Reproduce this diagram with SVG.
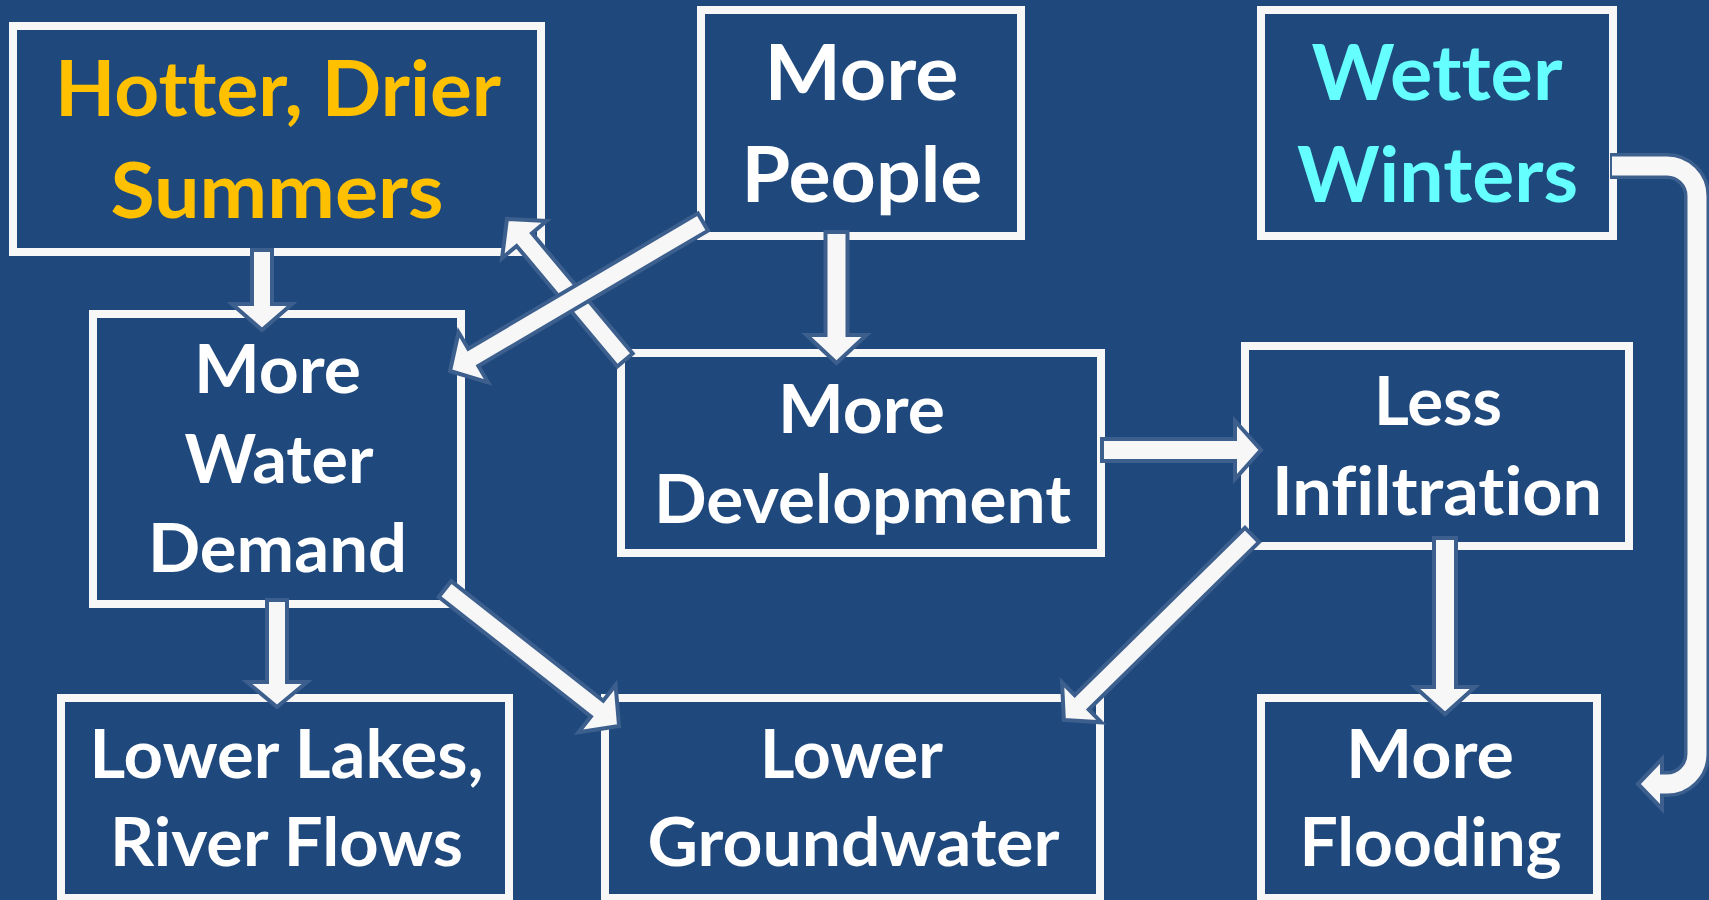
<svg xmlns="http://www.w3.org/2000/svg" width="1709" height="900" viewBox="0 0 1709 900">
<style>
.bg{fill:#1F497D}
.box{fill:#1F497D;stroke:#F7F7F7;stroke-width:8}
.t{font-family:Lato,"Open Sans","Liberation Sans",sans-serif;font-weight:700;text-anchor:middle;fill:#FFFFFF;font-variant-ligatures:none;font-feature-settings:"liga" 0,"clig" 0,"dlig" 0}
.s{font-size:66px}
.b{font-size:76px}
.arr{fill:#F7F7F7;stroke:#3C5F8E;stroke-width:4;stroke-linejoin:miter}
</style>
<rect class="bg" x="0" y="0" width="1709" height="900"/>
<g id="hotter">
<rect class="box" x="13" y="26" width="528" height="226"/>
<text class="t b" x="278" y="116" style="fill:#FFC000" textLength="446" lengthAdjust="spacingAndGlyphs">Hotter, Drier</text>
<text class="t b" x="277" y="218" style="fill:#FFC000" textLength="333" lengthAdjust="spacingAndGlyphs">Summers</text>
</g>
<g id="people">
<rect class="box" x="701" y="10" width="320" height="226"/>
<text class="t b" x="861.5" y="100" textLength="194" lengthAdjust="spacingAndGlyphs">More</text>
<text class="t b" x="862" y="201.5" textLength="241" lengthAdjust="spacingAndGlyphs">People</text>
</g>
<g id="wetter">
<rect class="box" x="1261" y="10" width="352" height="226"/>
<text class="t b" x="1437" y="99.5" style="fill:#66FFFF" textLength="251" lengthAdjust="spacingAndGlyphs">Wetter</text>
<text class="t b" x="1437.5" y="201.5" style="fill:#66FFFF" textLength="281" lengthAdjust="spacingAndGlyphs">Winters</text>
</g>
<g id="water">
<rect class="box" x="93" y="314" width="368" height="290"/>
<text class="t s" x="277.5" y="392.5" textLength="167" lengthAdjust="spacingAndGlyphs">More</text>
<text class="t s" x="279" y="482.5" textLength="189" lengthAdjust="spacingAndGlyphs">Water</text>
<text class="t s" x="277.5" y="571.5" textLength="259" lengthAdjust="spacingAndGlyphs">Demand</text>
</g>
<g id="development">
<rect class="box" x="621" y="353" width="480" height="200"/>
<text class="t s" x="861.5" y="432.5" textLength="167" lengthAdjust="spacingAndGlyphs">More</text>
<text class="t s" x="862.5" y="522.5" textLength="417" lengthAdjust="spacingAndGlyphs">Development</text>
</g>
<g id="infiltration">
<rect class="box" x="1245" y="346" width="384" height="200"/>
<text class="t s" x="1438" y="425" textLength="128" lengthAdjust="spacingAndGlyphs">Less</text>
<text class="t s" x="1437" y="515" textLength="330" lengthAdjust="spacingAndGlyphs">Infiltration</text>
</g>
<g id="lakes">
<rect class="box" x="61" y="698" width="448" height="200"/>
<text class="t s" x="286.5" y="777.5" textLength="394" lengthAdjust="spacingAndGlyphs">Lower Lakes,</text>
<text class="t s" x="286.5" y="866" textLength="353" lengthAdjust="spacingAndGlyphs">River Flows</text>
</g>
<g id="groundwater">
<rect class="box" x="605" y="698" width="495" height="200"/>
<text class="t s" x="851.5" y="777.5" textLength="183" lengthAdjust="spacingAndGlyphs">Lower</text>
<text class="t s" x="853.5" y="866" textLength="412" lengthAdjust="spacingAndGlyphs">Groundwater</text>
</g>
<g id="flooding">
<rect class="box" x="1261" y="698" width="336" height="200"/>
<text class="t s" x="1430" y="777.5" textLength="168" lengthAdjust="spacingAndGlyphs">More</text>
<text class="t s" x="1430.5" y="866" textLength="262" lengthAdjust="spacingAndGlyphs">Flooding</text>
</g>
<g id="connectors">
<polygon class="arr" transform="translate(262,250) rotate(90)" points="0,-10 54,-10 54,-30 80,0 54,30 54,10 0,10"/>
<polygon class="arr" transform="translate(836.5,232) rotate(90)" points="0,-11 103,-11 103,-30 131,0 103,30 103,11 0,11"/>
<polygon class="arr" transform="translate(625,360) rotate(-129.9)" points="0,-10 157,-10 157,-29 184,0 157,29 157,10 0,10"/>
<polygon class="arr" transform="translate(703,222) rotate(149.5)" points="0,-10 266.6,-10 266.6,-29 293.6,0 266.6,29 266.6,10 0,10"/>
<polygon class="arr" transform="translate(445,589) rotate(38.2)" points="0,-10 193.5,-10 193.5,-30 221.5,0 193.5,30 193.5,10 0,10"/>
<polygon class="arr" transform="translate(277,600) rotate(90)" points="0,-10 82,-10 82,-30 107,0 82,30 82,10 0,10"/>
<polygon class="arr" transform="translate(1102,450)" points="0,-11 133,-11 133,-29 159,0 133,29 133,11 0,11"/>
<polygon class="arr" transform="translate(1252,535) rotate(135.5)" points="0,-10 238.8,-10 238.8,-28 263.8,0 238.8,28 238.8,10 0,10"/>
<polygon class="arr" transform="translate(1445,538) rotate(90)" points="0,-11 149,-11 149,-30 176,0 149,30 149,11 0,11"/>
<path d="M1610,166 H1667 A30,30 0 0 1 1697,196 V754 A30,30 0 0 1 1667,784 H1662" fill="none" stroke="#3C5F8E" stroke-width="26"/>
<polygon class="arr" points="1662,759 1662,809 1638,784"/>
<path d="M1612,166 H1667 A30,30 0 0 1 1697,196 V754 A30,30 0 0 1 1667,784 H1660" fill="none" stroke="#F7F7F7" stroke-width="19"/>
</g>
</svg>
